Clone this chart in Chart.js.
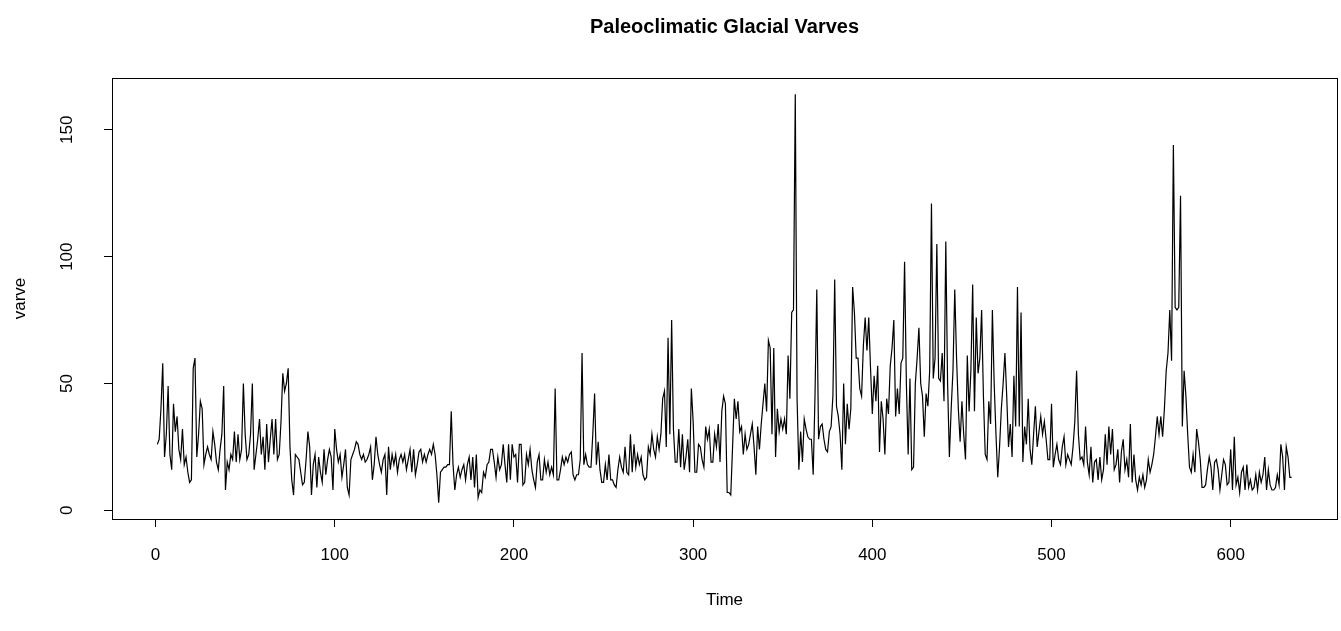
<!DOCTYPE html>
<html>
<head>
<meta charset="utf-8">
<script src="https://cdn.jsdelivr.net/npm/chart.js@4.4.1/dist/chart.umd.min.js"></script>
<style>
  html, body { margin: 0; padding: 0; background: #fff; }
  #wrap { width: 1341px; height: 631px; }
</style>
</head>
<body>
<div id="wrap"><canvas id="chartVarve" width="1341" height="631"></canvas></div>
<script>
// varve thickness, one value per year (time 1..634)
const varve = [
  26, 28, 40, 58, 21, 30, 49, 22, 16, 42,
  31, 37, 24, 20, 32, 18, 21, 15, 11, 12,
  56, 60, 21, 30, 43, 40, 18, 22, 25, 22,
  20, 31, 26, 19, 16, 24, 30, 49, 8, 19,
  16, 22, 20, 31, 19, 30, 20, 24, 50, 30,
  20, 22, 30, 50, 16, 22, 28, 36, 22, 29,
  16, 34, 19, 28, 36, 22, 36, 20, 22, 35,
  54, 47, 50, 56, 25, 12, 6, 22, 21, 20,
  15, 10, 11, 20, 31, 25, 6, 18, 22, 9,
  21, 15, 11, 24, 14, 20, 24, 21, 8, 32,
  24, 19, 22, 13, 18, 24, 9, 6, 20, 22,
  24, 27, 26, 22, 20, 22, 19, 20, 22, 25,
  12, 18, 29, 22, 18, 15, 20, 22, 6, 25,
  16, 22, 18, 22, 15, 20, 22, 19, 22, 16,
  20, 24, 15, 24, 14, 18, 23, 24, 19, 22,
  19, 22, 24, 22, 26, 22, 14, 3, 15, 16,
  17, 17, 18, 18, 39, 18, 8, 14, 17, 13,
  16, 18, 12, 18, 21, 12, 21, 9, 22, 5,
  8, 7, 15, 13, 18, 19, 24, 24, 19, 13,
  21, 16, 18, 26, 18, 11, 26, 12, 26, 21,
  22, 11, 26, 26, 10, 11, 22, 18, 24, 16,
  12, 9, 19, 22, 12, 12, 20, 15, 19, 14,
  17, 14, 48, 12, 12, 16, 21, 18, 21, 19,
  22, 23, 14, 12, 14, 14, 20, 62, 18, 22,
  18, 17, 17, 30, 46, 18, 27, 16, 11, 11,
  18, 12, 22, 12, 12, 10, 9, 16, 21, 17,
  15, 25, 15, 14, 30, 15, 26, 17, 22, 18,
  21, 14, 12, 13, 25, 22, 30, 24, 21, 29,
  24, 30, 44, 47, 25, 68, 30, 75, 32, 19,
  19, 32, 17, 30, 16, 21, 28, 15, 48, 35,
  15, 15, 26, 25, 20, 17, 33, 28, 32, 19,
  19, 30, 25, 34, 19, 39, 45, 42, 7, 7,
  6, 25, 44, 36, 43, 31, 33, 22, 30, 24,
  26, 30, 34, 25, 14, 33, 24, 34, 42, 50,
  39, 67, 64, 30, 64, 21, 40, 31, 36, 32,
  36, 30, 61, 44, 78, 79, 164, 44, 16, 31,
  19, 36, 32, 29, 28, 28, 14, 45, 87, 28,
  33, 34, 28, 24, 23, 31, 33, 45, 91, 41,
  37, 30, 16, 50, 26, 42, 32, 40, 88, 78,
  60, 60, 48, 45, 65, 76, 63, 76, 56, 38,
  53, 43, 57, 23, 43, 36, 22, 44, 38, 57,
  64, 75, 37, 48, 38, 58, 60, 98, 50, 22,
  52, 16, 17, 50, 60, 72, 50, 45, 29, 46,
  41, 55, 121, 52, 60, 105, 52, 51, 62, 43,
  106, 50, 21, 40, 55, 87, 60, 40, 27, 43,
  30, 20, 61, 39, 55, 89, 39, 76, 54, 60,
  79, 45, 22, 20, 43, 34, 79, 50, 30, 13,
  25, 40, 50, 62, 45, 25, 34, 21, 53, 33,
  88, 33, 78, 19, 33, 26, 44, 24, 18, 30,
  41, 25, 31, 37, 30, 35, 28, 20, 20, 42,
  17, 22, 26, 20, 18, 25, 29, 18, 22, 20,
  18, 25, 35, 55, 30, 20, 21, 18, 33, 19,
  14, 25, 11, 19, 20, 12, 21, 12, 16, 30,
  18, 33, 22, 32, 16, 18, 24, 11, 23, 28,
  16, 20, 13, 34, 11, 22, 12, 8, 13, 10,
  14, 9, 12, 20, 15, 18, 22, 29, 37, 30,
  37, 29, 40, 55, 62, 79, 59, 144, 80, 79,
  80, 124, 33, 55, 45, 30, 17, 15, 22, 15,
  32, 27, 20, 9, 9, 10, 16, 21, 17, 8,
  19, 20, 16, 8, 14, 20, 18, 10, 11, 24,
  8, 29, 10, 13, 7, 15, 17, 8, 18, 9,
  12, 8, 9, 14, 8, 15, 11, 14, 21, 8,
  16, 10, 8, 8, 9, 14, 10, 26, 21, 8,
  25, 21, 13, 13
];
const startYear = 1;
const xTicks = [0, 100, 200, 300, 400, 500, 600];
const yTicks = [0, 50, 100, 150];
const mainTitle = 'Paleoclimatic Glacial Varves';
const xTitle = 'Time';
const yTitle = 'varve';

const times = varve.map((v, i) => startYear + i);
const points = varve.map((v, i) => ({ x: times[i], y: v }));

// R style 4% padding of the data range
const tMin = times[0], tMax = times[times.length - 1];
const vMin = Math.min(...varve), vMax = Math.max(...varve);
const xPad = 0.04 * (tMax - tMin), yPad = 0.04 * (vMax - vMin);

const font = "'Liberation Sans', Arial, Helvetica, sans-serif";

const rAxes = {
  id: 'rAxes',
  afterDraw(chart) {
    const { ctx, chartArea: a, scales } = chart;
    ctx.save();
    ctx.strokeStyle = '#000';
    ctx.lineWidth = 1;
    ctx.strokeRect(Math.round(a.left) + 0.5, Math.round(a.top) + 0.5,
      Math.round(a.right - a.left), Math.round(a.bottom - a.top));
    ctx.fillStyle = '#000';
    ctx.font = '17px ' + font;
    ctx.textAlign = 'center';
    ctx.textBaseline = 'middle';
    xTicks.forEach(v => ctx.fillText(String(v), scales.x.getPixelForValue(v), 555));
    yTicks.forEach(v => {
      ctx.save();
      ctx.translate(67, scales.y.getPixelForValue(v));
      ctx.rotate(-Math.PI / 2);
      ctx.fillText(String(v), 0, 0);
      ctx.restore();
    });
    const cx = (a.left + a.right) / 2;
    ctx.fillText(xTitle, cx, 600);
    ctx.save();
    ctx.translate(20, (a.top + a.bottom) / 2);
    ctx.rotate(-Math.PI / 2);
    ctx.fillText(yTitle, 0, 0);
    ctx.restore();
    ctx.font = 'bold 20px ' + font;
    ctx.fillText(mainTitle, cx, 27);
    ctx.restore();
  }
};

const ctx = document.getElementById('chartVarve').getContext('2d');
new Chart(ctx, {
  type: 'line',
  data: {
    datasets: [{
      data: points,
      borderColor: '#000',
      borderWidth: 1.2,
      pointRadius: 0,
      tension: 0,
      fill: false
    }]
  },
  options: {
    responsive: false,
    animation: false,
    devicePixelRatio: 1,
    layout: { padding: { top: 78, right: 4, left: 0, bottom: 0 } },
    plugins: { legend: { display: false }, tooltip: { enabled: false }, title: { display: false } },
    scales: {
      x: {
        type: 'linear',
        min: tMin - xPad,
        max: tMax + xPad,
        afterBuildTicks: s => { s.ticks = xTicks.map(v => ({ value: v })); },
        afterFit: s => { s.height = 112; },
        ticks: { display: false },
        grid: { drawOnChartArea: false, drawTicks: true, tickLength: 8, color: '#000', lineWidth: 1 },
        border: { display: false }
      },
      y: {
        type: 'linear',
        min: vMin - yPad,
        max: vMax + yPad,
        afterBuildTicks: s => { s.ticks = yTicks.map(v => ({ value: v })); },
        afterFit: s => { s.width = 112; },
        ticks: { display: false },
        grid: { drawOnChartArea: false, drawTicks: true, tickLength: 8, color: '#000', lineWidth: 1 },
        border: { display: false }
      }
    }
  },
  plugins: [rAxes]
});
</script>
</body>
</html>
